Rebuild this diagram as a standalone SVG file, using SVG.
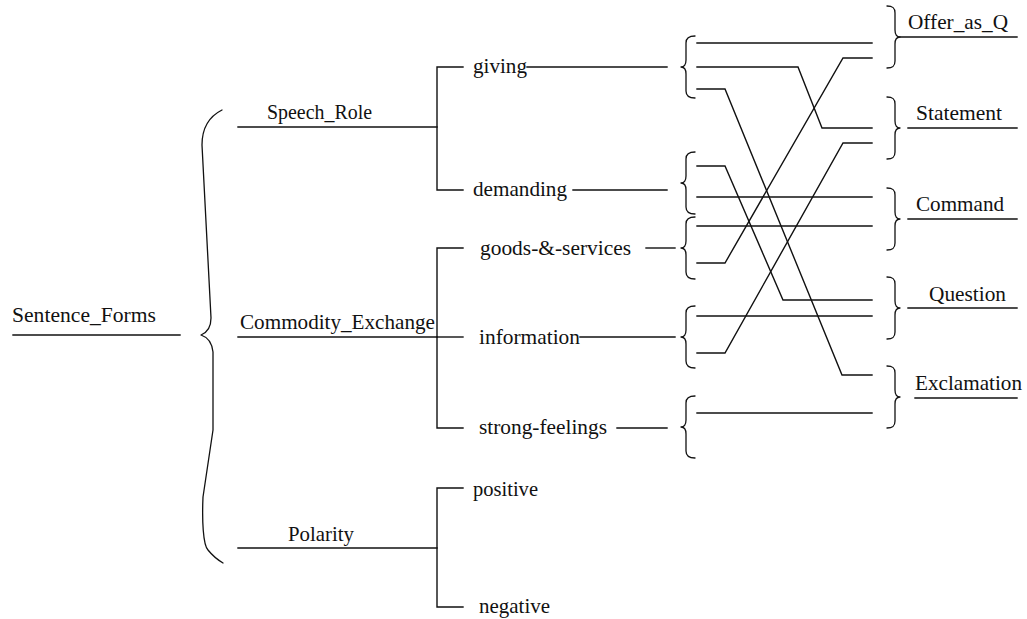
<svg xmlns="http://www.w3.org/2000/svg" width="1027" height="619" viewBox="0 0 1027 619">
  <style>
    .ln { fill: none; stroke: #111; stroke-width: 1.4; stroke-linecap: square; stroke-linejoin: miter; }
    .br { fill: none; stroke: #111; stroke-width: 1.3; stroke-linecap: round; stroke-linejoin: round; }
    .t { font-family: "Liberation Serif", "Times New Roman", serif; font-size: 21px; fill: #111; }
  </style>
  <defs>
    <!-- opening brace, cusp at origin, pointing left -->
    <path id="lbrace" d="M14,-31 C8,-31 5,-29 5,-24 L5,-7 C5,-2 3,0 0,0 C3,0 5,2 5,7 L5,24 C5,29 8,31 14,31"/>
    <!-- closing brace, cusp at origin, pointing right -->
    <path id="rbrace" d="M-13,-31 C-7,-31 -5,-29 -5,-24 L-5,-7 C-5,-2 -3,0 0,0 C-3,0 -5,2 -5,7 L-5,24 C-5,29 -7,31 -13,31"/>
  </defs>
  <rect width="1027" height="619" fill="#fff"/>

  <!-- systems and features -->
  <g id="node-sentence-forms">
    <text class="t" x="12" y="322" textLength="144" lengthAdjust="spacingAndGlyphs">Sentence_Forms</text>
    <line class="ln" x1="13" y1="335" x2="180" y2="335"/>
  </g>
  <g id="node-speech-role">
    <text class="t" x="267" y="119" textLength="105" lengthAdjust="spacingAndGlyphs">Speech_Role</text>
    <line class="ln" x1="238" y1="127" x2="437" y2="127"/>
  </g>
  <g id="node-commodity-exchange">
    <text class="t" x="240" y="329" textLength="195" lengthAdjust="spacingAndGlyphs">Commodity_Exchange</text>
    <line class="ln" x1="238" y1="337" x2="437" y2="337"/>
  </g>
  <g id="node-polarity">
    <text class="t" x="288" y="541" textLength="66" lengthAdjust="spacingAndGlyphs">Polarity</text>
    <line class="ln" x1="238" y1="548" x2="437" y2="548"/>
  </g>
  <g id="node-giving"><text class="t" x="473" y="73" textLength="54" lengthAdjust="spacingAndGlyphs">giving</text></g>
  <g id="node-demanding"><text class="t" x="473" y="196" textLength="94" lengthAdjust="spacingAndGlyphs">demanding</text></g>
  <g id="node-goods-services"><text class="t" x="480" y="255" textLength="151" lengthAdjust="spacingAndGlyphs">goods-&amp;-services</text></g>
  <g id="node-information"><text class="t" x="479" y="344" textLength="101" lengthAdjust="spacingAndGlyphs">information</text></g>
  <g id="node-strong-feelings"><text class="t" x="479" y="434" textLength="128" lengthAdjust="spacingAndGlyphs">strong-feelings</text></g>
  <g id="node-positive"><text class="t" x="473" y="496" textLength="65" lengthAdjust="spacingAndGlyphs">positive</text></g>
  <g id="node-negative"><text class="t" x="479" y="613" textLength="71" lengthAdjust="spacingAndGlyphs">negative</text></g>

  <g id="node-offer-as-q">
    <text class="t" x="908" y="29" textLength="100" lengthAdjust="spacingAndGlyphs">Offer_as_Q</text>
    <line class="ln" x1="900" y1="37" x2="1017" y2="37"/>
  </g>
  <g id="node-statement">
    <text class="t" x="916" y="120" textLength="86" lengthAdjust="spacingAndGlyphs">Statement</text>
    <line class="ln" x1="908" y1="128" x2="1017" y2="128"/>
  </g>
  <g id="node-command">
    <text class="t" x="916" y="211" textLength="88" lengthAdjust="spacingAndGlyphs">Command</text>
    <line class="ln" x1="908" y1="219" x2="1017" y2="219"/>
  </g>
  <g id="node-question">
    <text class="t" x="929" y="301" textLength="77" lengthAdjust="spacingAndGlyphs">Question</text>
    <line class="ln" x1="908" y1="308" x2="1017" y2="308"/>
  </g>
  <g id="node-exclamation">
    <text class="t" x="915" y="390" textLength="107" lengthAdjust="spacingAndGlyphs">Exclamation</text>
    <line class="ln" x1="915" y1="398" x2="1017" y2="398"/>
  </g>

  <g id="connectors">
    <!-- simultaneous systems brace -->
    <path class="br" d="M222,110 C210,116 202,126 202,145 L211,318 C211,328 206,333 201,335 C207,337 212,342 213,352 L213,430 L203,497 C202,520 203,545 208,550 C212,555 218,560 223,563"/>

    <!-- Speech_Role bracket -->
    <path class="ln" d="M463,67 H437 V190 H463"/>
    <line class="ln" x1="527" y1="67" x2="667" y2="67"/>
    <line class="ln" x1="573" y1="190" x2="667" y2="190"/>

    <!-- Commodity_Exchange bracket -->
    <path class="ln" d="M463,248 H437 V428 H463"/>
    <line class="ln" x1="437" y1="337" x2="463" y2="337"/>
    <line class="ln" x1="646" y1="248" x2="675" y2="248"/>
    <line class="ln" x1="580" y1="337" x2="675" y2="337"/>
    <line class="ln" x1="617" y1="428" x2="667" y2="428"/>

    <!-- Polarity bracket -->
    <path class="ln" d="M463,488 H437 V607 H463"/>

    <!-- entry braces -->
    <use href="#lbrace" class="br" x="681" y="67"/>
    <use href="#lbrace" class="br" x="681" y="183"/>
    <use href="#lbrace" class="br" x="681" y="248"/>
    <use href="#lbrace" class="br" x="681" y="337"/>
    <use href="#lbrace" class="br" x="681" y="427"/>

    <!-- realisation paths -->
    <polyline class="ln" points="697,43 872,43"/>
    <polyline class="ln" points="697,67 798,67 822,128 872,128"/>
    <polyline class="ln" points="697,89 725,89 842,375 872,375"/>
    <polyline class="ln" points="697,166 725,166 783,300 872,300"/>
    <polyline class="ln" points="697,197 872,197"/>
    <polyline class="ln" points="697,226 872,226"/>
    <polyline class="ln" points="697,263 725,263 843,58 872,58"/>
    <polyline class="ln" points="697,316 872,316"/>
    <polyline class="ln" points="697,353 725,353 843,143 872,143"/>
    <polyline class="ln" points="697,413 872,413"/>

    <!-- conjunction braces -->
    <use href="#rbrace" class="br" x="900" y="37"/>
    <use href="#rbrace" class="br" x="900" y="128"/>
    <use href="#rbrace" class="br" x="900" y="219"/>
    <use href="#rbrace" class="br" x="900" y="308"/>
    <use href="#rbrace" class="br" x="900" y="397"/>
  </g>
</svg>
